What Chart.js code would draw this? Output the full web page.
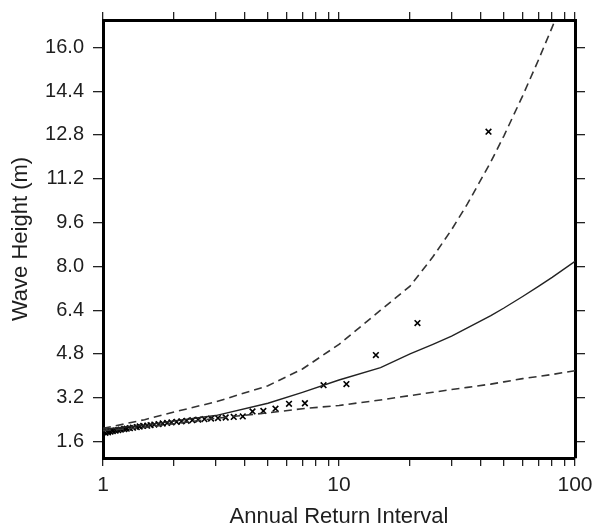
<!DOCTYPE html>
<html>
<head>
<meta charset="utf-8">
<script src="https://cdn.jsdelivr.net/npm/chart.js@4.4.1/dist/chart.umd.min.js"></script>
<style>
  html, body { margin: 0; padding: 0; background: #fff; }
  canvas { display: block; }
</style>
</head>
<body>
<canvas id="waveChart" width="594" height="528"></canvas>
<script>
// observed annual maxima, plotted against return interval
const returnInterval = [43, 21.5, 14.33, 10.75, 8.6, 7.17, 6.14, 5.38, 4.78, 4.3,
    3.91, 3.58, 3.31, 3.07, 2.87, 2.69, 2.53, 2.39, 2.26, 2.15,
    2.05, 1.95, 1.87, 1.79, 1.72, 1.65, 1.59, 1.54, 1.48, 1.43,
    1.39, 1.34, 1.30, 1.26, 1.23, 1.19, 1.16, 1.13, 1.10, 1.075, 1.05, 1.024];
const waveHeight = [12.92, 5.93, 4.76, 3.70, 3.66, 3.00, 2.98, 2.80, 2.72, 2.70,
    2.52, 2.50, 2.48, 2.46, 2.44, 2.42, 2.40, 2.38, 2.36, 2.34,
    2.32, 2.30, 2.28, 2.26, 2.24, 2.22, 2.20, 2.18, 2.17, 2.15,
    2.13, 2.11, 2.09, 2.07, 2.06, 2.04, 2.02, 2.00, 1.98, 1.96, 1.94, 1.92];

// fitted curve and confidence bounds
const fitInterval = [1.0, 1.5, 2, 3, 5, 7, 10, 15, 20, 25, 30, 35, 44, 50, 60, 70, 80, 100];
const fitHeight   = [2.05, 2.20, 2.35, 2.55, 3.00, 3.40, 3.85, 4.30, 4.80, 5.15, 5.45, 5.75, 6.20, 6.48, 6.90, 7.27, 7.60, 8.18];
const upperBound  = [2.08, 2.40, 2.68, 3.05, 3.64, 4.25, 5.15, 6.40, 7.28, 8.35, 9.34, 10.28, 11.82, 12.77, 14.23, 15.54, 16.73, 18.82];
const lowerBound  = [2.00, 2.12, 2.25, 2.45, 2.65, 2.80, 2.92, 3.12, 3.28, 3.40, 3.50, 3.58, 3.70, 3.78, 3.90, 3.98, 4.05, 4.19];

const xTickValues = [1, 2, 3, 4, 5, 6, 7, 8, 9, 10, 20, 30, 40, 50, 60, 70, 80, 90, 100];
const xTickLabels = { 1: '1', 10: '10', 100: '100' };
const yTickValues = [1.6, 3.2, 4.8, 6.4, 8.0, 9.6, 11.2, 12.8, 14.4, 16.0];

const fontFamily = "'Liberation Sans', Arial, Helvetica, sans-serif";
const textColor = '#1e1e1e';

function toPoints(xs, ys) {
    return xs.map(function (x, i) { return { x: x, y: ys[i] }; });
}

// pin a scale box to a fixed size so the plot frame lands where the original does
function fixSize(size) {
    return function (s) {
        if (s.isHorizontal()) { s.height = size; } else { s.width = size; }
        s.paddingLeft = 0;
        s.paddingRight = 0;
        s.paddingTop = 0;
        s.paddingBottom = 0;
    };
}

const gridOpts = {
    display: true,
    drawOnChartArea: false,
    drawTicks: true,
    tickLength: 8,
    color: '#222',
    lineWidth: 1.3,
};
const borderOpts = { display: true, color: '#000', width: 3 };

const data = {
    datasets: [
        {
            label: 'fit',
            data: toPoints(fitInterval, fitHeight),
            showLine: true,
            borderColor: '#222',
            borderWidth: 1.4,
            pointRadius: 0,
            tension: 0,
        },
        {
            label: 'upper',
            data: toPoints(fitInterval, upperBound),
            showLine: true,
            borderColor: '#333',
            borderWidth: 1.6,
            borderDash: [8, 5],
            pointRadius: 0,
            tension: 0,
        },
        {
            label: 'lower',
            data: toPoints(fitInterval, lowerBound),
            showLine: true,
            borderColor: '#333',
            borderWidth: 1.6,
            borderDash: [8, 5],
            pointRadius: 0,
            tension: 0,
        },
        {
            label: 'observed',
            data: toPoints(returnInterval, waveHeight),
            showLine: false,
            pointStyle: 'crossRot',
            pointRadius: 4,
            pointBorderWidth: 1.6,
            borderColor: '#000',
            backgroundColor: '#000',
        },
    ]
};

new Chart(document.getElementById('waveChart').getContext('2d'), {
    type: 'scatter',
    data: data,
    options: {
        responsive: false,
        animation: false,
        layout: { padding: 0 },
        plugins: {
            legend: { display: false },
            tooltip: { enabled: false },
        },
        scales: {
            x: {
                type: 'logarithmic',
                position: 'bottom',
                min: 1,
                max: 100,
                grid: gridOpts,
                border: borderOpts,
                afterBuildTicks: function (s) {
                    s.ticks = xTickValues.map(function (v) { return { value: v }; });
                },
                afterFit: fixSize(70),
                ticks: {
                    autoSkip: false,
                    maxRotation: 0,
                    padding: 7,
                    color: textColor,
                    font: { size: 21, family: fontFamily },
                    callback: function (v) { return xTickLabels[v] || ''; }
                },
                title: {
                    display: true,
                    text: 'Annual Return Interval',
                    color: textColor,
                    padding: { top: 0, bottom: -2 },
                    font: { size: 22, family: fontFamily }
                }
            },
            xTop: {
                type: 'logarithmic',
                position: 'top',
                min: 1,
                max: 100,
                grid: gridOpts,
                border: borderOpts,
                afterBuildTicks: function (s) {
                    s.ticks = xTickValues.map(function (v) { return { value: v }; });
                },
                afterFit: fixSize(20),
                ticks: { display: false }
            },
            y: {
                type: 'linear',
                position: 'left',
                min: 1,
                max: 17,
                grid: Object.assign({}, gridOpts, { tickLength: 10 }),
                border: borderOpts,
                afterBuildTicks: function (s) {
                    s.ticks = yTickValues.map(function (v) { return { value: v }; });
                },
                afterFit: fixSize(103),
                ticks: {
                    padding: 9,
                    color: textColor,
                    font: { size: 20, family: fontFamily },
                    callback: function (v) { return Number(v).toFixed(1); }
                },
                title: {
                    display: true,
                    text: 'Wave Height (m)',
                    color: textColor,
                    padding: { top: 8, bottom: 0 },
                    font: { size: 22, family: fontFamily }
                }
            },
            yRight: {
                type: 'linear',
                position: 'right',
                min: 1,
                max: 17,
                grid: Object.assign({}, gridOpts, { tickLength: 10 }),
                border: borderOpts,
                afterBuildTicks: function (s) {
                    s.ticks = yTickValues.map(function (v) { return { value: v }; });
                },
                afterFit: fixSize(19),
                ticks: { display: false }
            }
        }
    },
});
</script>
</body>
</html>
